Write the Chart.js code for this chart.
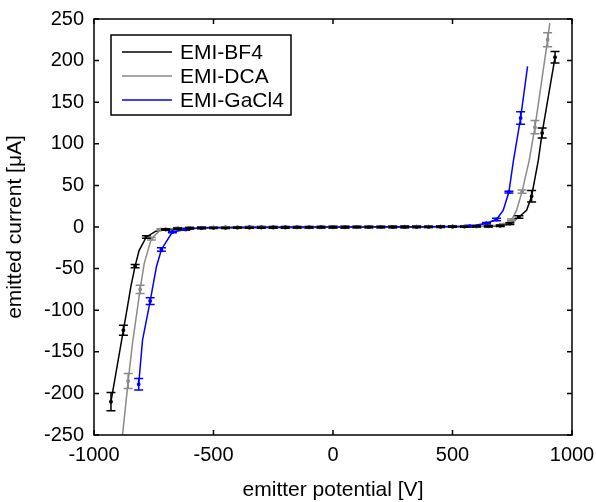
<!DOCTYPE html>
<html>
<head>
<meta charset="utf-8">
<script src="https://cdn.jsdelivr.net/npm/chart.js@4/dist/chart.umd.min.js"></script>
<style>
  html, body { margin: 0; padding: 0; background: #fff; }
  #wrap { width: 596px; height: 502px; }
</style>
</head>
<body>
<div id="wrap"><canvas id="ivChart" width="596" height="502"></canvas></div>
<script>
// emitter potential [V] / emitted current [uA], error = half bar height (null: no bar)
const bf4X = [-929, -877, -860, -846, -828, -811, -781, -741, -700,
  -650, -600, -550, -500, -450, -400, -350, -300, -250, -200, -150, -100, -50,
  0, 50, 100, 150, 200, 250, 300, 350, 400, 450, 500, 550, 600, 650,
  700, 740, 778, 810, 831, 859, 875, 929];
const bf4Y = [-210, -124, -96, -72, -47, -28, -12, -5, -3,
  -2, -1.5, -1.2, -1, -1, -0.8, -0.8, -0.7, -0.6, -0.6, -0.5, -0.5, -0.4,
  -0.3, -0.3, -0.2, -0.2, -0.1, 0, 0, 0.1, 0.2, 0.3, 0.4, 0.5, 0.7, 0.9,
  1.5, 4, 12, 20, 37, 80, 113, 204];
const bf4Err = [11, 6, null, null, 2, null, 1.5, null, 1,
  0.8, 0.8, 0.8, 0.8, 0.8, 0.8, 0.8, 0.8, 0.8, 0.8, 0.8, 0.8, 0.8,
  0.8, 0.8, 0.8, 0.8, 0.8, 0.8, 0.8, 0.8, 0.8, 0.8, 0.8, 0.8, 0.8, 0.8,
  1, 1, 1.5, null, 7, null, 6, 7];

const dcaX = [-885, -857, -839, -807, -790, -760, -720,
  -650, -600, -550, -500, -450, -400, -350, -300, -250, -200, -150, -100, -50,
  0, 50, 100, 150, 200, 250, 300, 350, 400, 450, 500, 550, 600, 650,
  712, 747, 768, 791, 821, 845, 898, 907];
const dcaY = [-262, -185, -140, -75, -44, -14, -3,
  -1.5, -1, -0.8, -0.6, -0.5, -0.5, -0.4, -0.3, -0.3, -0.2, -0.2, -0.1, -0.1,
  0, 0, 0, 0.1, 0.1, 0.2, 0.2, 0.3, 0.3, 0.4, 0.5, 0.6, 0.8, 1,
  3, 8.5, 20, 42.5, 80, 120, 225, 245];
const dcaErr = [null, 9, null, 5, null, 1.5, 1,
  0.8, 0.8, 0.8, 0.8, 0.8, 0.8, 0.8, 0.8, 0.8, 0.8, 0.8, 0.8, 0.8,
  0.8, 0.8, 0.8, 0.8, 0.8, 0.8, 0.8, 0.8, 0.8, 0.8, 0.8, 0.8, 0.8, 0.8,
  1, 1, null, 2, null, 8, 8.5, null];

const gacl4X = [-813, -797, -765, -739, -718, -672, -616,
  -550, -500, -450, -400, -350, -300, -250, -200, -150, -100, -50,
  0, 50, 100, 150, 200, 250, 300, 350, 400, 450, 500,
  572, 642, 684, 712, 736, 754, 785, 814];
const gacl4Y = [-189, -136, -89, -48, -27, -6, -3,
  -1, -0.7, -0.5, -0.4, -0.3, -0.3, -0.2, -0.2, -0.1, -0.1, 0,
  0, 0, 0.1, 0.1, 0.2, 0.2, 0.3, 0.3, 0.4, 0.5, 0.6,
  1, 4.5, 9, 20, 42, 78, 131, 193];
const gacl4Err = [7, null, 4, null, 2, 1, 1,
  0.8, 0.8, 0.8, 0.8, 0.8, 0.8, 0.8, 0.8, 0.8, 0.8, 0.8,
  0.8, 0.8, 0.8, 0.8, 0.8, 0.8, 0.8, 0.8, 0.8, 0.8, 0.8,
  1, 1, 1.5, null, 1, null, 7.5, null];

const seriesNames = ['EMI-BF4', 'EMI-DCA', 'EMI-GaCl4'];
const seriesColors = ['#000000', '#8a8a8a', '#0000ff'];

const FONT = '"Liberation Sans", Arial, Helvetica, sans-serif';

function toPoints(xs, ys) {
  return xs.map((x, i) => ({ x: x, y: ys[i] }));
}

function makeSet(i, xs, ys, errs, order) {
  return {
    label: seriesNames[i],
    data: toPoints(xs, ys),
    errors: errs,
    borderColor: seriesColors[i],
    backgroundColor: seriesColors[i],
    borderWidth: 1.5,
    // only measured points with a bar get a dot
    pointRadius: c => (errs[c.dataIndex] == null ? 0 : 1.2),
    pointHoverRadius: 0,
    tension: 0,
    order: order
  };
}

// error bars, box with inward ticks, legend
const framePlugin = {
  id: 'framePlugin',
  afterDatasetsDraw(chart) {
    const ctx = chart.ctx;
    const xs = chart.scales.x, ys = chart.scales.y;
    const area = chart.chartArea;
    ctx.save();
    ctx.beginPath();
    ctx.rect(area.left, area.top, area.right - area.left, area.bottom - area.top);
    ctx.clip();
    // draw in reverse so the first dataset ends up on top like the lines
    for (let d = chart.data.datasets.length - 1; d >= 0; d--) {
      const ds = chart.data.datasets[d];
      ctx.strokeStyle = ds.borderColor;
      ctx.lineWidth = 1.5;
      ds.data.forEach((p, i) => {
        const e = ds.errors[i];
        if (e == null) return;
        const px = xs.getPixelForValue(p.x);
        const top = ys.getPixelForValue(p.y + e);
        const bot = ys.getPixelForValue(p.y - e);
        ctx.beginPath();
        ctx.moveTo(px, top); ctx.lineTo(px, bot);
        ctx.moveTo(px - 4.5, top); ctx.lineTo(px + 4.5, top);
        ctx.moveTo(px - 4.5, bot); ctx.lineTo(px + 4.5, bot);
        ctx.stroke();
      });
    }
    ctx.restore();
  },
  afterDraw(chart) {
    const ctx = chart.ctx;
    const xs = chart.scales.x, ys = chart.scales.y;
    const a = chart.chartArea;
    const tick = 5;
    ctx.save();
    ctx.strokeStyle = '#000';
    ctx.lineWidth = 1.5;
    ctx.strokeRect(a.left, a.top, a.right - a.left, a.bottom - a.top);
    ctx.beginPath();
    xs.ticks.forEach(t => {
      const px = xs.getPixelForValue(t.value);
      ctx.moveTo(px, a.bottom); ctx.lineTo(px, a.bottom - tick);
      ctx.moveTo(px, a.top); ctx.lineTo(px, a.top + tick);
    });
    ys.ticks.forEach(t => {
      const py = ys.getPixelForValue(t.value);
      ctx.moveTo(a.left, py); ctx.lineTo(a.left + tick, py);
      ctx.moveTo(a.right, py); ctx.lineTo(a.right - tick, py);
    });
    ctx.stroke();

    // legend box
    const lx = a.left + 17, ly = a.top + 16, lw = 180, lh = 80;
    ctx.fillStyle = '#fff';
    ctx.fillRect(lx, ly, lw, lh);
    ctx.strokeRect(lx, ly, lw, lh);
    ctx.font = '21px ' + FONT;
    ctx.textBaseline = 'middle';
    ctx.textAlign = 'left';
    chart.data.datasets.forEach((ds, i) => {
      const y = ly + 17 + i * 24;
      ctx.strokeStyle = ds.borderColor;
      ctx.lineWidth = 1.5;
      ctx.beginPath();
      ctx.moveTo(lx + 11, y); ctx.lineTo(lx + 61, y);
      ctx.stroke();
      ctx.fillStyle = '#000';
      ctx.fillText(ds.label, lx + 69, y + 1);
    });
    ctx.restore();
  }
};

const chart = new Chart(document.getElementById('ivChart'), {
  type: 'line',
  data: {
    datasets: [
      makeSet(0, bf4X, bf4Y, bf4Err, 2),
      makeSet(1, dcaX, dcaY, dcaErr, 1),
      makeSet(2, gacl4X, gacl4Y, gacl4Err, 0)
    ]
  },
  options: {
    responsive: false,
    animation: false,
    layout: { padding: { top: 19, right: 24, left: 0, bottom: 0 } },
    plugins: {
      legend: { display: false },
      tooltip: { enabled: false }
    },
    scales: {
      x: {
        type: 'linear',
        min: -1000,
        max: 1000,
        ticks: {
          stepSize: 500,
          color: '#000',
          font: { size: 20, family: FONT },
          padding: 8,
          maxRotation: 0,
          callback: v => String(v)
        },
        grid: { display: false, drawTicks: false },
        border: { display: false },
        title: {
          display: true,
          text: 'emitter potential [V]',
          color: '#000',
          font: { size: 21, family: FONT },
          padding: { top: 0, bottom: -1 }
        },
        afterFit(s) {
          s.height = 67;
          // end labels may hang over the frame; keep the plot width fixed
          s.paddingLeft = 0;
          s.paddingRight = 0;
        }
      },
      y: {
        type: 'linear',
        min: -250,
        max: 250,
        ticks: {
          stepSize: 50,
          color: '#000',
          font: { size: 20, family: FONT },
          padding: 10,
          callback: v => String(v)
        },
        grid: { display: false, drawTicks: false },
        border: { display: false },
        title: {
          display: true,
          text: 'emitted current [μA]',
          color: '#000',
          font: { size: 21, family: FONT },
          padding: { top: 3, bottom: 0 }
        },
        afterFit(s) {
          s.width = 94;
          s.paddingTop = 0;
          s.paddingBottom = 0;
        }
      }
    }
  },
  plugins: [framePlugin]
});
</script>
</body>
</html>
